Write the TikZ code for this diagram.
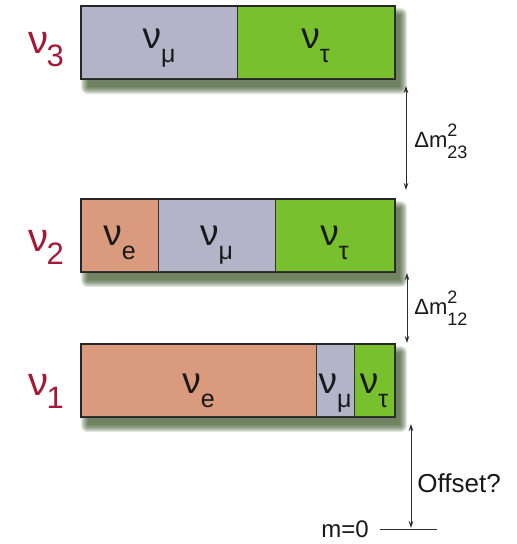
\documentclass[tikz,border=0pt]{standalone}
\usepackage{fontspec}
\setmainfont{Liberation Sans}
\usetikzlibrary{arrows.meta,positioning,backgrounds}
\definecolor{nulav}{RGB}{181,179,200}
\definecolor{nugreen}{RGB}{120,192,45}
\definecolor{nusalmon}{RGB}{217,154,126}
\definecolor{nured}{RGB}{165,25,55}
\definecolor{nushadow}{RGB}{40,70,20}
\definecolor{nugray}{RGB}{45,45,45}

% flavour label inside a bar, mass label at the left, splitting label
\newcommand{\flav}[1]{{\fontsize{37}{37}\selectfont ν}\raisebox{-14pt}{\fontsize{25}{25}\selectfont #1}}
\newcommand{\masslab}[1]{{\fontsize{40}{40}\selectfont ν}\kern-2pt\raisebox{-13pt}{\fontsize{31}{31}\selectfont #1}}
\newcommand{\dmsq}[1]{{\fontsize{22}{22}\selectfont Δm}\rlap{\raisebox{11pt}{\fontsize{18}{18}\selectfont 2}}\raisebox{-11pt}{\fontsize{18}{18}\selectfont #1}}

\begin{document}
\begin{tikzpicture}[x=1pt, y=-1pt,
    barbox/.style={draw=black!85, line width=1.2pt, anchor=north west, minimum width=313pt, minimum height=72pt, inner sep=0pt},
    seg/.style={draw=black!80, line width=0.8pt, minimum height=72pt, inner sep=0pt, outer sep=0pt, text=black!90},
    basedrop/.style={text height=#1, text depth=0pt},
    masslabel/.style={text=nured, inner sep=0pt},
    gap/.style={{Stealth[length=7pt,width=4.5pt]}-{Stealth[length=7pt,width=4.5pt]}, line width=0.8pt, draw=nugray},
    tag/.style={inner sep=0pt, text=black!90}
  ]
  \useasboundingbox (0,0) rectangle (517,544);

  % nu_3
  \node[barbox] (bar3) at (81,6) {};
  \node[seg, fill=nulav, minimum width=156pt, anchor=north west, basedrop=12pt] (b3mu) at (bar3.north west) {\flav{μ}};
  \node[seg, fill=nugreen, minimum width=157pt, right=0pt of b3mu, basedrop=12pt] (b3tau) {\flav{τ}};
  \draw[draw=black!85, line width=1.2pt] (bar3.north west) rectangle (bar3.south east);
  \node[masslabel, left=17pt of bar3, yshift=-7pt] (nu3) {\masslab{3}};

  % nu_2
  \node[barbox] (bar2) at (81,199) {};
  \node[seg, fill=nusalmon, minimum width=77pt, anchor=north west, basedrop=20pt] (b2e) at (bar2.north west) {\flav{e}};
  \node[seg, fill=nulav, minimum width=117pt, right=0pt of b2e, basedrop=20pt] (b2mu) {\flav{μ}};
  \node[seg, fill=nugreen, minimum width=119pt, right=0pt of b2mu, basedrop=20pt] (b2tau) {\flav{τ}};
  \draw[draw=black!85, line width=1.2pt] (bar2.north west) rectangle (bar2.south east);
  \node[masslabel, left=17pt of bar2, yshift=-12pt] (nu2) {\masslab{2}};

  % nu_1
  \node[barbox] (bar1) at (81,344) {};
  \node[seg, fill=nusalmon, minimum width=235pt, anchor=north west, basedrop=26pt] (b1e) at (bar1.north west) {\flav{e}};
  \node[seg, fill=nulav, minimum width=38pt, right=0pt of b1e, basedrop=26pt] (b1mu) {\flav{μ}};
  \node[seg, fill=nugreen, minimum width=40pt, right=0pt of b1mu, basedrop=26pt] (b1tau) {\flav{τ}};
  \draw[draw=black!85, line width=1.2pt] (bar1.north west) rectangle (bar1.south east);
  \node[masslabel, left=17pt of bar1, yshift=-11pt] (nu1) {\masslab{1}};

  % soft shadows under the bars
  \begin{scope}[on background layer]
    \foreach \b in {bar3,bar2,bar1}
      \foreach \k in {0,...,7}
        \fill[nushadow, opacity=0.13, rounded corners=\k pt]
          ([shift={(7-\k,9-\k)}]\b.north west) rectangle ([shift={(5+\k,8+\k)}]\b.south east);
  \end{scope}

  % mass splittings
  \draw[gap] ([xshift=12pt,yshift=-8pt]b3tau.south east) -- ([xshift=12pt,yshift=9pt]b2tau.north east)
    node[tag, pos=0.53, right=8pt] (dm23) {\dmsq{23}};
  \draw[gap] ([xshift=13pt,yshift=-2pt]b2tau.south east) -- ([xshift=13pt,yshift=1pt]b1tau.north east)
    node[tag, midway, right=7pt] (dm12) {\dmsq{12}};

  % zero of the mass scale
  \coordinate (zero) at (411,529);
  \coordinate (zl) at (380,529);
  \coordinate (zr) at (437,529);
  \draw[line width=0.8pt, draw=nugray] (zl) -- (zr);
  \node[tag, left=11pt of zl, font=\fontsize{24}{24}\selectfont] (m0) {m=0};
  \draw[gap, shorten >=1pt] ([xshift=17pt,yshift=-8pt]b1tau.south east) -- (zero)
    node[tag, pos=0.56, right=6pt, font=\fontsize{26}{26}\selectfont] (off) {Offset?};
\end{tikzpicture}
\end{document}
